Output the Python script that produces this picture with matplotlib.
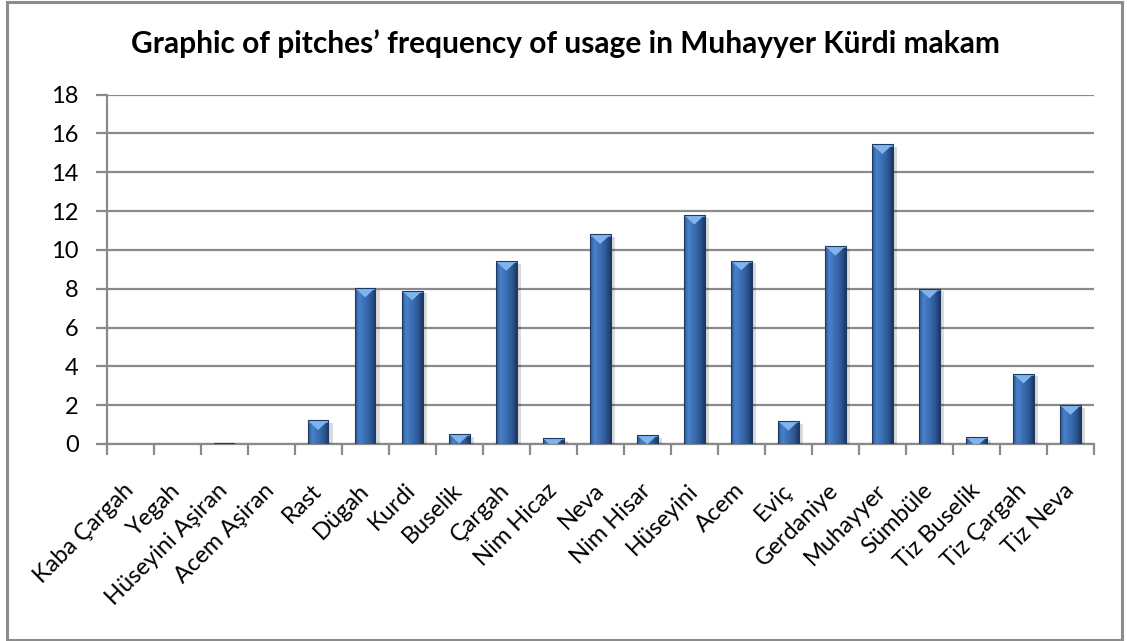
import numpy as np
import matplotlib
matplotlib.use("Agg")
import matplotlib.pyplot as plt
from matplotlib.patches import Rectangle, Polygon
from matplotlib.colors import LinearSegmentedColormap
import matplotlib.patheffects as pe

pitches = ["Kaba Çargah", "Yegah", "Hüseyini Aşiran", "Acem Aşiran", "Rast", "Dügah",
           "Kurdi", "Buselik", "Çargah", "Nim Hicaz", "Neva", "Nim Hisar", "Hüseyini",
           "Acem", "Eviç", "Gerdaniye", "Muhayyer", "Sümbüle", "Tiz Buselik",
           "Tiz Çargah", "Tiz Neva"]
frequency = [0, 0, 0.05, 0, 1.22, 8.05, 7.9, 0.52, 9.42, 0.31, 10.8, 0.47, 11.8,
             9.45, 1.19, 10.2, 15.43, 8.0, 0.36, 3.62, 2.0]
y_ticks = [0, 2, 4, 6, 8, 10, 12, 14, 16, 18]
title = "Graphic of pitches\u2019 frequency of usage in Muhayyer Kürdi makam"

plt.rcParams['font.family'] = ['Lato', 'DejaVu Sans']

W, H = 1127, 641
fig = plt.figure(figsize=(W / 100, H / 100), dpi=100)
fig.patch.set_facecolor("white")

# outer border
fig.patches.append(Rectangle((7 / W, 1 - 640 / H), (1122 - 7) / W, (640 - 2) / H,
                             transform=fig.transFigure, fill=False,
                             edgecolor="#8c8c8c", lw=2.2, zorder=0))

ax = fig.add_axes([106.5 / W, 1 - 444 / H, (1094 - 106.5) / W, (444 - 94.5) / H])
ax.set_facecolor("white")

x = np.arange(len(pitches))
bars = ax.bar(x, frequency, width=0.44, color="#3567ab", edgecolor="none", zorder=3)

cmap = LinearSegmentedColormap.from_list(
    "barg", ["#2a5590", "#4a82cb", "#3f74bb", "#3666a8", "#2b5591", "#1c3861"])
grad = np.linspace(0, 1, 64).reshape(1, -1)
for b in bars:
    bx, bw, bh = b.get_x(), b.get_width(), b.get_height()
    if bh <= 0:
        continue
    im = ax.imshow(grad, cmap=cmap, aspect="auto", extent=(bx, bx + bw, 0, bh),
                   zorder=3.5, interpolation="bicubic")
    im.set_clip_path(b)
    # top bevel
    hb = 0.5
    band = Rectangle((bx, bh - 0.12), bw, 0.12, facecolor="#5b94da",
                     edgecolor="none", zorder=3.6)
    ax.add_patch(band)
    band.set_clip_path(b)
    tri = Polygon([(bx, bh), (bx + bw, bh), (bx + bw / 2, bh - hb)], closed=True,
                  facecolor="#7fb4ee", edgecolor="none", zorder=3.7)
    ax.add_patch(tri)
    tri.set_clip_path(b)
    edge = Rectangle((bx, 0), bw, bh, fill=False, edgecolor="#1e3a63", lw=0.8, zorder=3.8)
    ax.add_patch(edge)
    b.set_path_effects([pe.SimplePatchShadow(offset=(3, -2), shadow_rgbFace="#000000",
                                             alpha=0.14), pe.Normal()])

ax.set_xlim(-0.5, len(pitches) - 0.5)
ax.set_ylim(0, 18)
ax.set_yticks(y_ticks)
ax.set_yticklabels([str(v) for v in y_ticks], fontsize=17)
ax.yaxis.grid(True, color="#8a8a8a", lw=1.6, zorder=0)
ax.set_axisbelow(True)
ax.tick_params(axis="y", length=8, width=1.6, color="#8a8a8a", pad=12)

ax.set_xticks(x)
ax.set_xticklabels(pitches, rotation=45, ha="right", va="center",
                   rotation_mode="anchor", fontsize=17)
ax.tick_params(axis="x", which="major", length=0, pad=31)
ax.set_xticks(np.arange(-0.5, len(pitches)), minor=True)
ax.tick_params(axis="x", which="minor", length=8, width=1.6, color="#8a8a8a")

for s in ["top", "right"]:
    ax.spines[s].set_visible(False)
for s in ["left", "bottom"]:
    ax.spines[s].set_color("#8a8a8a")
    ax.spines[s].set_linewidth(1.6)

fig.text(565 / W, 1 - 44 / H, title, ha="center", va="center", fontsize=21.5,
         fontweight="bold")

fig.savefig("out.png", dpi=100, facecolor="white")
